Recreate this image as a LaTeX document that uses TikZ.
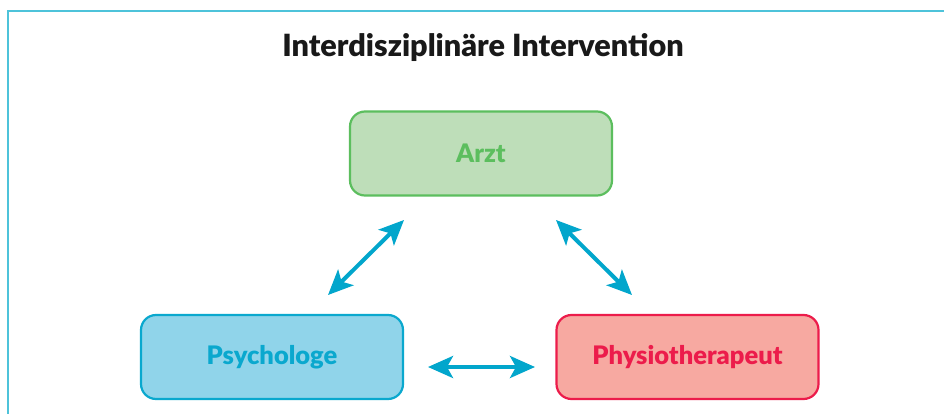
\documentclass[tikz,border=0pt]{standalone}
\usepackage{fontspec}
\setmainfont{Lato}[BoldFont={Lato Black}]
\usetikzlibrary{arrows.meta}
\definecolor{framec}{HTML}{4EC3DA}
\definecolor{arrowc}{HTML}{02A6CC}
\definecolor{gstroke}{HTML}{5CBE5E}
\definecolor{gfill}{HTML}{BEDEB9}
\definecolor{bstroke}{HTML}{0AA8CE}
\definecolor{bfill}{HTML}{90D4EA}
\definecolor{rstroke}{HTML}{EC1C4B}
\definecolor{rfill}{HTML}{F7A9A1}
\tikzset{
  box/.style={rounded corners=15pt, line width=2.2pt, minimum width=262pt, minimum height=84pt, font=\fontsize{25.5}{28}\selectfont\bfseries, inner sep=0pt},
  link/.style={line width=4pt, arrowc, {Stealth[length=25pt,width=22pt,inset=6pt]}-{Stealth[length=25pt,width=22pt,inset=6pt]}}
}
\begin{document}
\begin{tikzpicture}[x=1pt,y=-1pt]
\useasboundingbox (0,0) rectangle (944,414);
\fill[white] (0,0) rectangle (944,414);
\draw[framec, line width=2pt] (8,414) -- (8,11) -- (944,11);
\node[font=\fontsize{30.6}{35}\selectfont\bfseries, text=black!90, anchor=base] (title) at (483,57) {Interdisziplinäre Intervention};
\node[box, draw=gstroke, fill=gfill, text=gstroke] (arzt) at (481,153.5) {Arzt};
\node[box, draw=bstroke, fill=bfill, text=bstroke] (psych) at (272,357) {Psychologe};
\node[box, draw=rstroke, fill=rfill, text=rstroke] (physio) at (687.5,357) {Physiotherapeut};
\coordinate (a1) at (404,220);
\coordinate (a2) at (328,295);
\coordinate (b1) at (556,220);
\coordinate (b2) at (632,295);
\coordinate (c1) at (428,367);
\coordinate (c2) at (535,367);
\draw[link] (a1) -- (a2);
\draw[link] (b1) -- (b2);
\draw[link] (c1) -- (c2);
\end{tikzpicture}
\end{document}
